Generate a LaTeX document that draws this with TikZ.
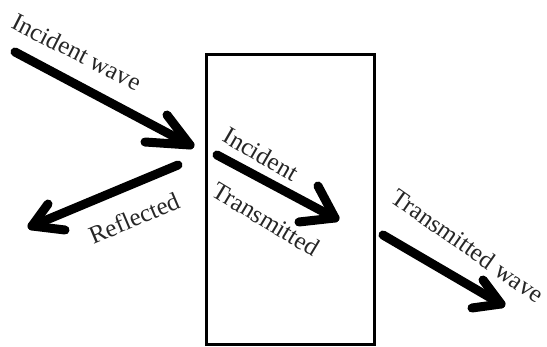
\documentclass[tikz,border=0pt]{standalone}
\usepackage{fontspec}
\setmainfont{Liberation Serif}
\begin{document}
\begin{tikzpicture}[x=1pt,y=-1pt,
  shaft/.style={line width=9pt,line cap=round,line join=round},
  lbl/.style={text=black!85,inner sep=0pt,font=\fontsize{25}{28}\selectfont}]
\useasboundingbox (0,0) rectangle (547,347);
% slab
\node[draw,line width=3pt,minimum width=168pt,minimum height=290pt,inner sep=0pt,anchor=north west] (slab) at (205,53) {};
% incident wave
\coordinate (a1s) at (15,52); \coordinate (a1t) at (190,145);
\coordinate (a1b) at (167,115); \coordinate (a1c) at (145,142);
\draw[shaft] (a1s) -- (a1t);
\draw[shaft] (a1b) -- (a1t) -- (a1c);
% reflected
\coordinate (a2s) at (178,165); \coordinate (a2t) at (32,226);
\coordinate (a2b) at (48,204); \coordinate (a2c) at (65,230);
\draw[shaft] (a2s) -- (a2t);
\draw[shaft] (a2b) -- (a2t) -- (a2c);
% inside the slab
\coordinate (a3s) at (217,155); \coordinate (a3t) at (335,218);
\coordinate (a3b) at (318,186); \coordinate (a3c) at (299,222);
\draw[shaft] (a3s) -- (a3t);
\draw[shaft] (a3b) -- (a3t) -- (a3c);
% transmitted wave
\coordinate (a4s) at (383,235); \coordinate (a4t) at (501,304);
\coordinate (a4b) at (483,280); \coordinate (a4c) at (472,308);
\draw[shaft] (a4s) -- (a4t);
\draw[shaft] (a4b) -- (a4t) -- (a4c);
% labels
\node[lbl,rotate=-27] (l1) at (77,52) {Incident wave};
\node[lbl,rotate=23] (l2) at (134,218) {Reflected};
\node[lbl,rotate=-30] (l3) at (261,154) {Incident};
\node[lbl,rotate=-31] (l4) at (266,219) {Transmitted};
\node[lbl,rotate=-35] (l5) at (468,246) {Transmitted wave};
\end{tikzpicture}
\end{document}
